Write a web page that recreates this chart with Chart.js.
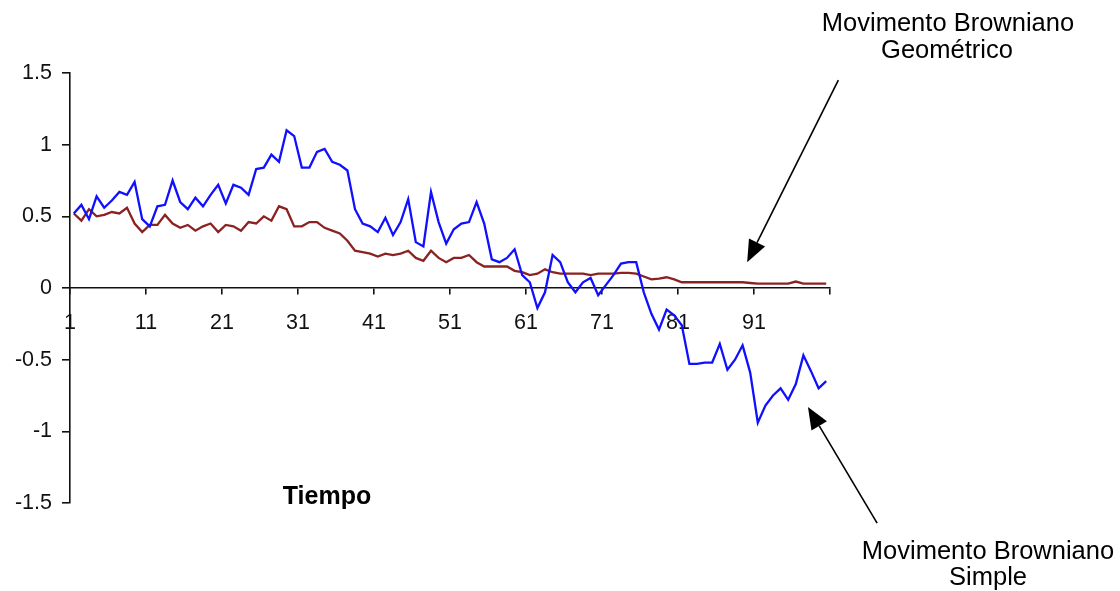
<!DOCTYPE html>
<html>
<head>
<meta charset="utf-8">
<script src="https://cdn.jsdelivr.net/npm/chart.js@4.4.1/dist/chart.umd.min.js"></script>
<style>
  html, body { margin: 0; padding: 0; background: #fff; }
  #wrap { width: 1120px; height: 591px; }
</style>
</head>
<body>
<div id="wrap"><canvas id="chart" width="1120" height="591"></canvas></div>
<script>
// Time steps (categories)
const tiempo = Array.from({ length: 100 }, (_, i) => i + 1);

// Movimento Browniano Simple (blue)
const simple = [
  0.52, 0.58, 0.48, 0.64, 0.56, 0.61, 0.67, 0.65, 0.74, 0.48,
  0.43, 0.57, 0.58, 0.75, 0.60, 0.55, 0.63, 0.57, 0.65, 0.72,
  0.59, 0.72, 0.70, 0.65, 0.83, 0.84, 0.93, 0.88, 1.10, 1.06,
  0.84, 0.84, 0.95, 0.97, 0.88, 0.86, 0.82, 0.55, 0.45, 0.43,
  0.39, 0.49, 0.37, 0.46, 0.62, 0.32, 0.29, 0.67, 0.46, 0.31,
  0.41, 0.45, 0.46, 0.60, 0.45, 0.20, 0.18, 0.21, 0.27, 0.09,
  0.04, -0.14, -0.03, 0.23, 0.18, 0.04, -0.03, 0.04, 0.07, -0.05,
  0.02, 0.09, 0.17, 0.18, 0.18, -0.03, -0.18, -0.29, -0.15, -0.19,
  -0.26, -0.53, -0.53, -0.52, -0.52, -0.39, -0.57, -0.50, -0.40, -0.59,
  -0.94, -0.82, -0.75, -0.70, -0.78, -0.67, -0.47, -0.58, -0.70, -0.65
];

// Movimento Browniano Geometrico (dark red)
const geometrico = [
  0.52, 0.47, 0.55, 0.50, 0.51, 0.53, 0.52, 0.56, 0.45, 0.39,
  0.44, 0.44, 0.51, 0.45, 0.42, 0.44, 0.40, 0.43, 0.45, 0.39,
  0.44, 0.43, 0.40, 0.46, 0.45, 0.50, 0.47, 0.57, 0.55, 0.43,
  0.43, 0.46, 0.46, 0.42, 0.40, 0.38, 0.33, 0.26, 0.25, 0.24,
  0.22, 0.24, 0.23, 0.24, 0.26, 0.21, 0.19, 0.26, 0.21, 0.18,
  0.21, 0.21, 0.23, 0.18, 0.15, 0.15, 0.15, 0.15, 0.12, 0.11,
  0.09, 0.10, 0.13, 0.11, 0.10, 0.10, 0.10, 0.10, 0.09, 0.10,
  0.10, 0.10, 0.105, 0.105, 0.10, 0.08, 0.06, 0.065, 0.075, 0.06,
  0.04, 0.04, 0.04, 0.04, 0.04, 0.04, 0.04, 0.04, 0.04, 0.035,
  0.03, 0.03, 0.03, 0.03, 0.03, 0.045, 0.03, 0.03, 0.03, 0.03
];

// Axis ticks
const xTickLabels = ['1', '11', '21', '31', '41', '51', '61', '71', '81', '91', ''];
const yTicks = [-1.5, -1, -0.5, 0, 0.5, 1, 1.5];

const FONT = "'Liberation Sans', Arial, sans-serif";

// Annotation arrows, in data coordinates (tail -> head)
const arrows = [
  { from: [101.6, 1.45], to: [89.6, 0.18] },
  { from: [106.7, -1.64], to: [97.6, -0.83] }
];

const annotations = {
  id: 'annotations',
  afterDraw(chart) {
    const ctx = chart.ctx;
    const xs = chart.scales.x, ys = chart.scales.y;
    ctx.save();
    ctx.fillStyle = '#000';
    ctx.textAlign = 'center';
    ctx.textBaseline = 'middle';
    ctx.font = '25.5px ' + FONT;
    ctx.fillText('Movimento Browniano', 948, 24);
    ctx.fillText('Geométrico', 947, 51);
    ctx.fillText('Movimento Browniano', 988, 552);
    ctx.fillText('Simple', 988, 578);
    ctx.font = 'bold 25px ' + FONT;
    ctx.fillText('Tiempo', 327, 497);

    ctx.strokeStyle = '#000';
    ctx.lineWidth = 1.6;
    arrows.forEach(a => {
      const x1 = xs.getPixelForValue(a.from[0]), y1 = ys.getPixelForValue(a.from[1]);
      const x2 = xs.getPixelForValue(a.to[0]), y2 = ys.getPixelForValue(a.to[1]);
      const ang = Math.atan2(y2 - y1, x2 - x1);
      const len = 22, hw = 9;
      const bx = x2 - len * Math.cos(ang), by = y2 - len * Math.sin(ang);
      ctx.beginPath();
      ctx.moveTo(x1, y1);
      ctx.lineTo(bx, by);
      ctx.stroke();
      ctx.beginPath();
      ctx.moveTo(x2, y2);
      ctx.lineTo(bx + hw * Math.sin(ang), by - hw * Math.cos(ang));
      ctx.lineTo(bx - hw * Math.sin(ang), by + hw * Math.cos(ang));
      ctx.closePath();
      ctx.fill();
    });
    ctx.restore();
  }
};

new Chart(document.getElementById('chart'), {
  type: 'line',
  data: {
    datasets: [
      {
        label: 'Movimento Browniano Simple',
        data: simple.map((v, i) => ({ x: tiempo[i], y: v })),
        borderColor: '#1010ff',
        borderWidth: 2.3,
        pointRadius: 0,
        tension: 0
      },
      {
        label: 'Movimento Browniano Geométrico',
        data: geometrico.map((v, i) => ({ x: tiempo[i], y: v })),
        borderColor: '#8b2222',
        borderWidth: 2.3,
        pointRadius: 0,
        tension: 0
      }
    ]
  },
  options: {
    responsive: false,
    animation: false,
    layout: { padding: { left: 0, right: 290, top: 73, bottom: 88 } },
    plugins: { legend: { display: false }, tooltip: { enabled: false } },
    scales: {
      x: {
        type: 'linear',
        position: { y: 0 },
        min: 0.5,
        max: 100.5,
        afterBuildTicks: s => { s.ticks = xTickLabels.map((_, i) => ({ value: 0.5 + 10 * i })); },
        ticks: {
          autoSkip: false,
          maxRotation: 0,
          padding: 16,
          color: '#111',
          font: { family: FONT, size: 21.5 },
          callback: (v, i) => xTickLabels[i]
        },
        grid: { drawOnChartArea: false, drawTicks: true, tickLength: 6, color: '#111', lineWidth: 1.6 },
        border: { color: '#111', width: 1.6 }
      },
      y: {
        min: -1.5,
        max: 1.5,
        afterBuildTicks: s => { s.ticks = yTicks.map(v => ({ value: v })); },
        afterFit: s => { s.width = 70; },
        ticks: {
          padding: 10,
          color: '#111',
          font: { family: FONT, size: 21.5 },
          callback: v => String(v)
        },
        grid: { drawOnChartArea: false, drawTicks: true, tickLength: 8, color: '#111', lineWidth: 1.6 },
        border: { color: '#111', width: 1.6 }
      }
    }
  },
  plugins: [annotations]
});
</script>
</body>
</html>
